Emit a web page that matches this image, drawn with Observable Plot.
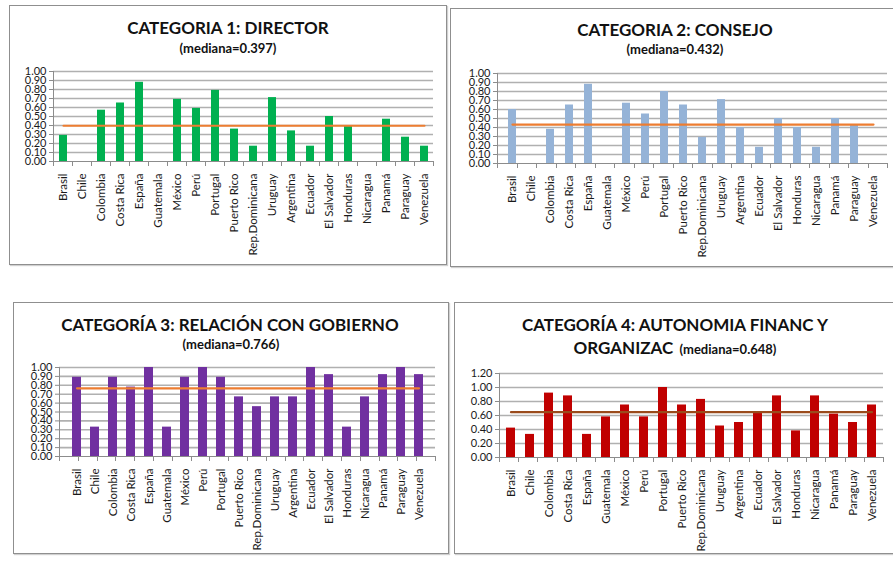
<!DOCTYPE html>
<html>
<head>
<meta charset="utf-8">
<script src="https://cdn.jsdelivr.net/npm/d3@7"></script>
<script src="https://cdn.jsdelivr.net/npm/@observablehq/plot@0.6"></script>
<style>
  html, body { margin: 0; padding: 0; background: #fff; }
  #page { position: relative; width: 893px; height: 561px; overflow: hidden; background: #fff; font-family: Lato, "Open Sans", sans-serif; }
  .box { position: absolute; border: 1px solid #8f8f8f; box-shadow: 1px 1px 1px #d0d0d0; background: #fff; }
  .title { position: absolute; width: 440px; text-align: center; font-weight: bold; color: #111; white-space: nowrap; line-height: 1; }
  .t1 { font-size: 17px; }
  .t2 { font-size: 13px; }
  .chart { position: absolute; }
</style>
</head>
<body>
<div id="page"></div>
<script>
// Países (eje de categorías, mismo orden en las cuatro gráficas)
const countries = ["Brasil", "Chile", "Colombia", "Costa Rica", "España", "Guatemala", "México", "Perú",
  "Portugal", "Puerto Rico", "Rep.Dominicana", "Uruguay", "Argentina", "Ecuador", "El Salvador",
  "Honduras", "Nicaragua", "Panamá", "Paraguay", "Venezuela"];

// Puntuaciones por categoría
const director = [0.29, 0, 0.57, 0.65, 0.88, 0, 0.69, 0.59, 0.79, 0.36, 0.17, 0.71, 0.34, 0.17, 0.50, 0.40, 0, 0.47, 0.27, 0.17];
const consejo = [0.60, 0, 0.38, 0.65, 0.88, 0, 0.67, 0.55, 0.80, 0.65, 0.29, 0.71, 0.40, 0.18, 0.50, 0.40, 0.18, 0.50, 0.43, 0];
const gobierno = [0.89, 0.33, 0.89, 0.78, 1.00, 0.33, 0.89, 1.00, 0.89, 0.67, 0.56, 0.67, 0.67, 1.00, 0.92, 0.33, 0.67, 0.92, 1.00, 0.92];
const autonomia = [0.42, 0.33, 0.92, 0.88, 0.33, 0.58, 0.75, 0.58, 1.00, 0.75, 0.83, 0.45, 0.50, 0.63, 0.88, 0.38, 0.88, 0.62, 0.50, 0.75];

// Medianas
const medianas = [0.397, 0.432, 0.766, 0.648];

// Marcas del eje vertical
const ticksUnit = [0, 0.1, 0.2, 0.3, 0.4, 0.5, 0.6, 0.7, 0.8, 0.9, 1.0];
const ticksWide = [0, 0.2, 0.4, 0.6, 0.8, 1.0, 1.2];

const panels = [
  {
    values: director, median: medianas[0], color: "#00b050", line: "#ed7d31",
    yMax: 1, ticks: ticksUnit, pad: 0.58,
    box: [9, 5, 438, 260], plot: [53, 433, 71, 161],
    titles: [["CATEGORIA 1: DIRECTOR", null, 228, 19], ["(mediana=0.397)", null, 228, 42]]
  },
  {
    values: consejo, median: medianas[1], color: "#95b3d7", line: "#ed7d31",
    yMax: 1, ticks: ticksUnit, pad: 0.59,
    box: [450, 8, 446, 259], plot: [497, 887, 73, 163],
    titles: [["CATEGORIA 2: CONSEJO", null, 675, 21], ["(mediana=0.432)", null, 675, 43]]
  },
  {
    values: gobierno, median: medianas[2], color: "#7030a0", line: "#ed7d31",
    yMax: 1, ticks: ticksUnit, pad: 0.5,
    box: [13, 302, 436, 252], plot: [59, 435, 367, 456],
    titles: [["CATEGORÍA 3: RELACIÓN CON GOBIERNO", null, 230, 316], ["(mediana=0.766)", null, 231, 338]]
  },
  {
    values: autonomia, median: medianas[3], color: "#c00000", line: "#9a4b1c",
    yMax: 1.2, ticks: ticksWide, pad: 0.53,
    box: [454, 302, 441, 252], plot: [499, 883, 373, 457],
    titles: [["CATEGORÍA 4: AUTONOMIA  FINANC Y", null, 675, 316], ["ORGANIZAC", "(mediana=0.648)", 675, 339]]
  }
];

const page = document.getElementById("page");

// Ejes al estilo de hoja de cálculo: línea vertical, línea base y marcas entre categorías
function sheetAxes(n) {
  return (index, scales, values, dims) => {
    const {width, height, marginLeft, marginRight, marginTop, marginBottom} = dims;
    const x0 = marginLeft, x1 = width - marginRight, y0 = marginTop, y1 = height - marginBottom;
    const step = (x1 - x0) / n;
    const g = d3.create("svg:g").attr("stroke", "#8c8c8c").attr("stroke-width", 1).attr("fill", "none");
    g.append("line").attr("x1", x0 + 0.5).attr("x2", x0 + 0.5).attr("y1", y0).attr("y2", y1);
    g.append("line").attr("x1", x0).attr("x2", x1).attr("y1", y1 + 0.5).attr("y2", y1 + 0.5);
    for (let i = 0; i <= n; i++) {
      const xi = Math.round(x0 + i * step) + 0.5;
      g.append("line").attr("x1", xi).attr("x2", xi).attr("y1", y1).attr("y2", y1 + 5);
    }
    return g.node();
  };
}

for (const p of panels) {
  const [bl, bt, bw, bh] = p.box;
  const [px0, px1, py0, py1] = p.plot;

  const box = document.createElement("div");
  box.className = "box";
  Object.assign(box.style, {left: bl + "px", top: bt + "px", width: (bw - 2) + "px", height: (bh - 2) + "px"});
  page.appendChild(box);

  p.titles.forEach(([text, small, cx, top], i) => {
    const t = document.createElement("div");
    t.className = "title " + (i === 0 || small ? "t1" : "t2");
    t.style.left = (cx - 220) + "px";
    t.style.top = top + "px";
    t.textContent = text;
    if (small) {
      const s = document.createElement("span");
      s.className = "t2";
      s.textContent = "  " + small;
      s.style.whiteSpace = "pre";
      t.appendChild(s);
    }
    page.appendChild(t);
  });

  const svgTop = py0 - 12;
  const svgHeight = bt + bh - 2 - svgTop;
  const rows = countries.map((c, i) => ({country: c, value: p.values[i]}));
  const medianRows = [countries[0], countries[countries.length - 1]].map(c => ({country: c, value: p.median}));

  const chart = Plot.plot({
    width: bw,
    height: svgHeight,
    marginLeft: px0 - bl,
    marginRight: bl + bw - px1,
    marginTop: py0 - svgTop,
    marginBottom: svgTop + svgHeight - py1,
    style: {fontFamily: "Lato, 'Open Sans', sans-serif", fontSize: "11px", color: "#1a1a1a", background: "transparent"},
    x: {domain: countries, paddingInner: p.pad, paddingOuter: p.pad / 2, label: null},
    y: {domain: [0, p.yMax], label: null},
    marks: [
      Plot.ruleY(p.ticks.slice(1), {stroke: "#b0b0b0", strokeWidth: 1.6}),
      Plot.barY(rows, {x: "country", y: "value", fill: p.color}),
      Plot.line(medianRows, {x: "country", y: "value", stroke: p.line, strokeWidth: 2.2}),
      Plot.axisY({ticks: p.ticks, tickFormat: d3.format(".2f"), tickSize: 4, tickPadding: 3, label: null, stroke: "#8c8c8c", fontSize: "11px"}),
      Plot.axisX({tickSize: 0, tickRotate: -90, tickPadding: 12, label: null, fontSize: "11.5px"}),
      sheetAxes(countries.length)
    ]
  });
  chart.classList.add("chart");
  chart.style.left = bl + "px";
  chart.style.top = svgTop + "px";
  page.appendChild(chart);
}
</script>
</body>
</html>
